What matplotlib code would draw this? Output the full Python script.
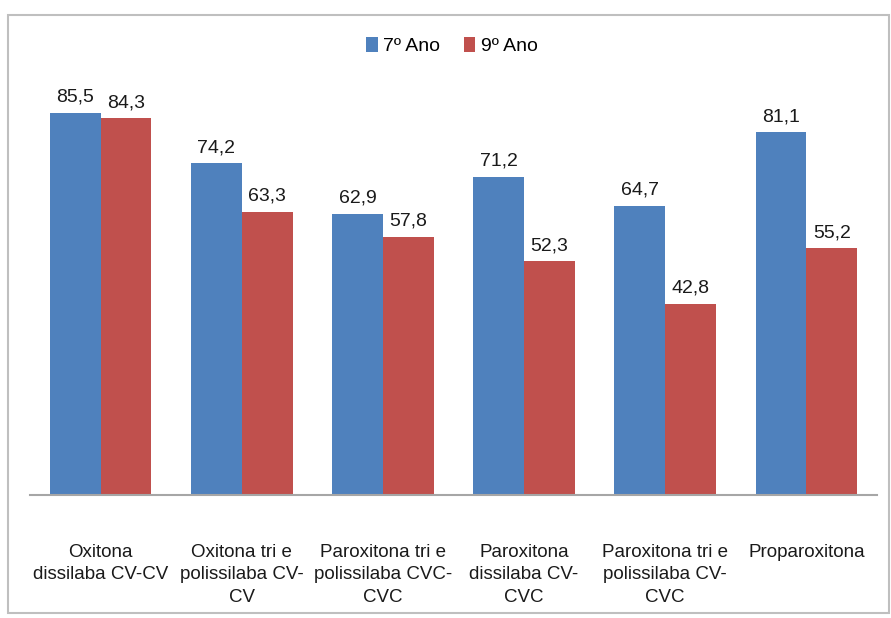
import numpy as np
import matplotlib.pyplot as plt
from matplotlib.patches import Rectangle

# data
categories = [
    "Oxitona\ndissilaba CV-CV",
    "Oxitona tri e\npolissilaba CV-\nCV",
    "Paroxitona tri e\npolissilaba CVC-\nCVC",
    "Paroxitona\ndissilaba CV-\nCVC",
    "Paroxitona tri e\npolissilaba CV-\nCVC",
    "Proparoxitona",
]
ano7 = [85.5, 74.2, 62.9, 71.2, 64.7, 81.1]
ano9 = [84.3, 63.3, 57.8, 52.3, 42.8, 55.2]
series_names = ["7º Ano", "9º Ano"]

blue = "#4F81BD"
red = "#C0504D"

plt.rcParams["font.family"] = ["Liberation Sans Narrow", "Liberation Sans", "DejaVu Sans"]

fig = plt.figure(figsize=(8.91, 6.18), dpi=100)

# chart frame
fig.patches.append(Rectangle((8 / 891, 1 - 613 / 618), (889 - 8) / 891, (613 - 15) / 618,
                             transform=fig.transFigure, fill=False,
                             edgecolor="#BFBFBF", linewidth=1.5))

ax = fig.add_axes([30 / 891, 1 - 495 / 618, (877 - 30) / 891, (495 - 48) / 618])

x = np.arange(len(categories))
w = 0.36
b1 = ax.bar(x - w / 2, ano7, w, color=blue, label=series_names[0])
b2 = ax.bar(x + w / 2, ano9, w, color=red, label=series_names[1])

for bars in (b1, b2):
    for rect in bars:
        h = rect.get_height()
        ax.text(rect.get_x() + rect.get_width() / 2, h + 1.6, f"{h:.1f}".replace(".", ","),
                ha="center", va="bottom", fontsize=14, color="#1a1a1a")

ax.set_xlim(-0.5, len(categories) - 0.5)
ax.set_ylim(0, 100)
ax.set_yticks([])
ax.set_xticks(x)
ax.set_xticklabels(categories, fontsize=13.5, color="#1a1a1a", linespacing=1.45)
ax.tick_params(axis="x", length=0, pad=35)
for s in ["top", "right", "left"]:
    ax.spines[s].set_visible(False)
ax.spines["bottom"].set_color("#A6A6A6")
ax.spines["bottom"].set_linewidth(1.5)

fig.legend(loc="center", bbox_to_anchor=(452 / 891, 1 - 46 / 618), ncol=2, frameon=False,
           fontsize=14, handlelength=0.6, handleheight=0.8, handletextpad=0.3,
           columnspacing=1.2)

fig.savefig("out.png", dpi=100)
